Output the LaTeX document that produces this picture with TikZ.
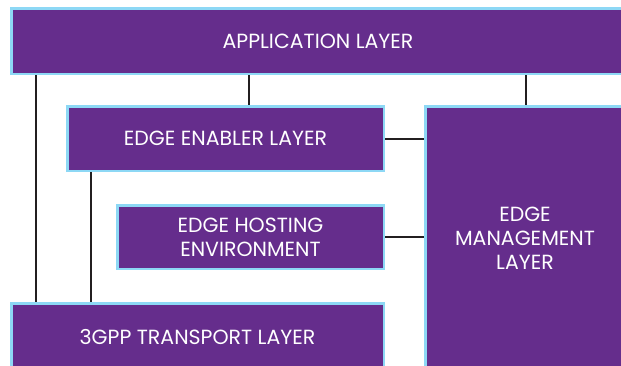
\documentclass[tikz,border=0pt]{standalone}
\usepackage{fontspec}
\setmainfont{Poppins}
\usetikzlibrary{backgrounds}
\definecolor{layerfill}{HTML}{652D8C}
\definecolor{layeredge}{HTML}{8DD8F5}
\definecolor{wire}{HTML}{231F20}
\tikzset{
  layer/.style={draw=layeredge, line width=2.5pt, fill=layerfill, text=white,
    inner sep=0pt, align=center, font=\fontsize{20.5}{24}\selectfont},
  link/.style={draw=wire, line width=2pt},
}
\begin{document}
\begin{tikzpicture}[x=1pt, y=-1pt]
  \useasboundingbox (0,0) rectangle (621,365);
  \clip (0,0) rectangle (621,365);
  % layers: outer edges minus half the border width
  \node[layer, minimum width=613.5pt, minimum height=65.5pt] (app) at (318,41) {APPLICATION LAYER};
  \node[layer, minimum width=316.5pt, minimum height=64.5pt] (enabler) at (225.5,138.5) {EDGE ENABLER LAYER};
  \node[layer, minimum width=266.5pt, minimum height=63.5pt] (hosting) at (250.5,237) {EDGE HOSTING\\ENVIRONMENT};
  \node[layer, minimum width=199.5pt, minimum height=264.5pt] (mgmt) at (525,238.5) {EDGE\\MANAGEMENT\\LAYER};
  \node[layer, minimum width=372.5pt, minimum height=67.5pt] (transport) at (197.5,337) {3GPP TRANSPORT LAYER};
  % x positions of the vertical links
  \coordinate (vA) at (36,0);
  \coordinate (vB) at (91,0);
  \coordinate (vC) at (249,0);
  \coordinate (vD) at (526,0);
  \begin{scope}[on background layer]
    \draw[link] (app.south -| vA) -- (transport.north -| vA);
    \draw[link] (enabler.south -| vB) -- (transport.north -| vB);
    \draw[link] (app.south -| vC) -- (enabler.north -| vC);
    \draw[link] (app.south -| vD) -- (mgmt.north -| vD);
    \draw[link] (enabler.east) -- (enabler.east -| mgmt.west);
    \draw[link] (hosting.east) -- (hosting.east -| mgmt.west);
  \end{scope}
\end{tikzpicture}
\end{document}
